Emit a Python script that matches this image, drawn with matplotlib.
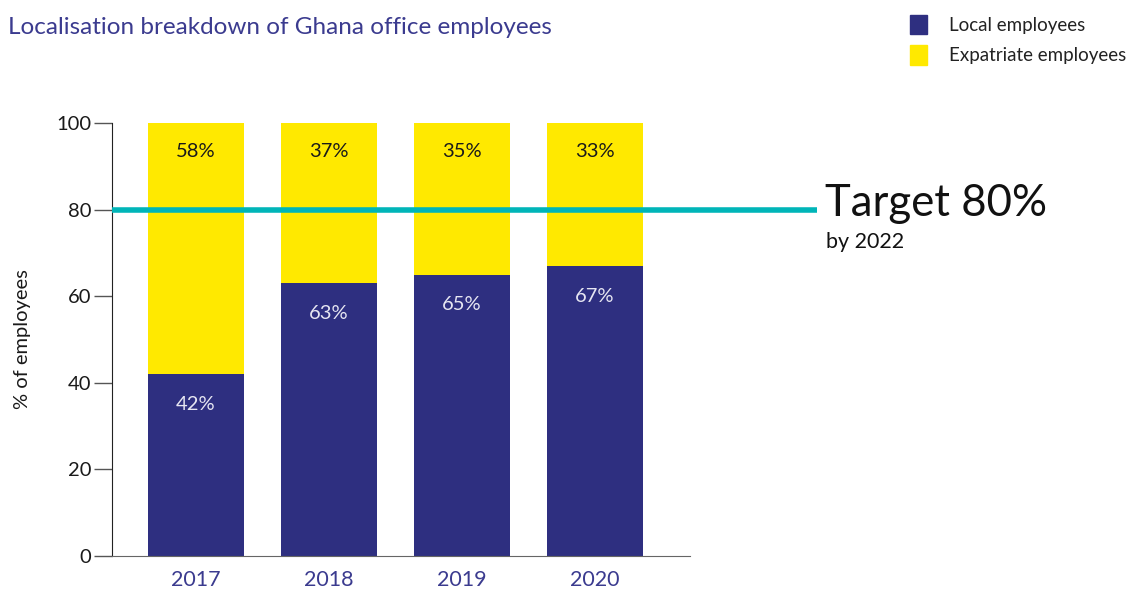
import numpy as np
import matplotlib.pyplot as plt
from matplotlib.patches import Patch

plt.rcParams['font.family'] = ['Lato', 'DejaVu Sans']

years = ['2017', '2018', '2019', '2020']
local = [42, 63, 65, 67]
expat = [58, 37, 35, 33]
target = 80

navy = '#2e2f80'
yellow = '#ffe900'
teal = '#00b5b8'

fig = plt.figure(figsize=(11.33, 5.94), dpi=100)
ax = fig.add_axes([112/1133, 1 - 556/594, (690 - 112)/1133, (556 - 123)/594])

x = np.arange(len(years))
w = 0.72
ax.bar(x, local, width=w, color=navy, zorder=2)
ax.bar(x, expat, width=w, bottom=local, color=yellow, zorder=2)

for xi, lo, ex in zip(x, local, expat):
    ax.text(xi, lo - 7, f'{lo}%', ha='center', va='center', fontsize=14.5, color='#e6e6f2', zorder=4)
    ax.text(xi, lo + ex - 6.5, f'{ex}%', ha='center', va='center', fontsize=14.5, color='#1a1a1a', zorder=4)

# target line runs past the plot area into the annotation
ax.plot([-0.632, 4.67], [target, target], color=teal, lw=4, clip_on=False, zorder=3,
        solid_capstyle='butt')
ax.text(4.73, target + 1.5, f'Target {target}%', fontsize=31.5, color='#111111', va='center', ha='left')
ax.text(4.74, target - 7.5, 'by 2022', fontsize=15.5, color='#111111', va='center', ha='left')

ax.set_xlim(-0.632, 3.714)
ax.set_ylim(0, 100)
ax.set_xticks(x)
ax.set_xticklabels(years, fontsize=15.5, color='#3b3b8f')
ax.set_yticks([0, 20, 40, 60, 80, 100])
ax.tick_params(axis='y', labelsize=14.5, length=13, width=1, color='#555555', labelcolor='#1a1a1a', pad=2)
ax.tick_params(axis='x', length=0, pad=10)
ax.set_ylabel('% of employees', fontsize=14.5, color='#1a1a1a', labelpad=18)

for s in ['top', 'right']:
    ax.spines[s].set_visible(False)
ax.spines['left'].set_color('#222222')
ax.spines['bottom'].set_color('#666666')

fig.text(8/1133, 1 - 28/594, 'Localisation breakdown of Ghana office employees',
         fontsize=17.5, color='#3b3b8f', va='center', ha='left')

handles = [Patch(color=navy, label='Local employees'), Patch(color=yellow, label='Expatriate employees')]
fig.legend(handles=handles, loc='upper left', bbox_to_anchor=(893/1133, 1 + 2/594), frameon=False,
           fontsize=13.5, handlelength=0.9, handleheight=1.2, handletextpad=1.2, labelspacing=0.6,
           labelcolor='#222222')

fig.savefig('out.png', dpi=100)
